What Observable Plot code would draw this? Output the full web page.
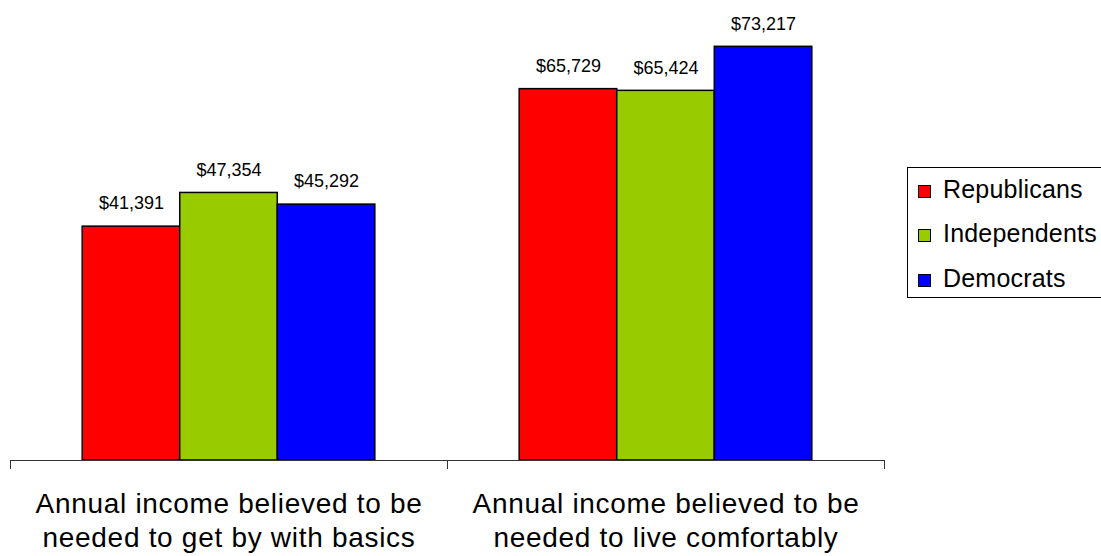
<!DOCTYPE html>
<html>
<head>
<meta charset="utf-8">
<script src="https://cdn.jsdelivr.net/npm/d3@7"></script>
<script src="https://cdn.jsdelivr.net/npm/@observablehq/plot@0.6"></script>
<style>
  html, body { margin: 0; padding: 0; background: #fff; }
  #wrap { position: relative; width: 1101px; height: 556px; overflow: hidden; font-family: "Liberation Sans", Arial, sans-serif; }
  #legend { position: absolute; left: 907px; top: 167px; width: 230px; height: 131px; border: 1px solid #000; box-sizing: border-box; background: #fff; }
  .sw { position: absolute; left: 10px; width: 13px; height: 13px; box-sizing: border-box; border: 1.5px solid #000; }
  .lb { position: absolute; left: 35px; font-size: 25px; line-height: 25px; letter-spacing: 0.2px; color: #000; white-space: nowrap; }
</style>
</head>
<body>
<div id="wrap"></div>
<script>
const groups = [
  "Annual income believed to be\nneeded to get by with basics",
  "Annual income believed to be\nneeded to live comfortably"
];
const parties = ["Republicans", "Independents", "Democrats"];
const basics = [41391, 47354, 45292];
const comfortably = [65729, 65424, 73217];
const colors = ["#ff0000", "#99cc00", "#0000ff"];

const seriesByGroup = [basics, comfortably];
const data = groups.flatMap((g, i) => parties.map((p, j) => ({group: g, party: p, value: seriesByGroup[i][j]})));
const fmt = d3.format("$,");

const chart = Plot.plot({
  width: 1101,
  height: 556,
  marginLeft: 10,
  marginRight: 217,
  marginTop: 8,
  marginBottom: 96,
  style: {fontFamily: "'Liberation Sans', Arial, sans-serif", background: "#fff", color: "#000"},
  fx: {domain: groups, padding: 0, axis: null},
  x: {domain: parties, paddingInner: 0, paddingOuter: 0.74, round: false, axis: null},
  y: {domain: [0, 80000], axis: null},
  color: {domain: parties, range: colors},
  marks: [
    Plot.barY(data, {fx: "group", x: "party", y: "value", fill: "party", stroke: "#000", strokeWidth: 1.5}),
    Plot.text(data, {fx: "group", x: "party", y: "value", text: d => fmt(d.value), dy: -23, fontSize: 18, fill: "#000"}),
    Plot.ruleY([0], {stroke: "#333", strokeWidth: 1}),
    Plot.frame({anchor: "left", insetTop: 452, insetBottom: -8, stroke: "#333"}),
    Plot.frame({anchor: "right", insetTop: 452, insetBottom: -8, stroke: "#333"}),
    Plot.text(groups, {fx: d => d, text: d => d, frameAnchor: "bottom", lineAnchor: "top", dy: 29, fontSize: 28, lineHeight: 1.2, fill: "#000"})
  ]
});

// widen the category labels slightly, as in the original
d3.select(chart).selectAll("text").filter(function() { return this.querySelector("tspan"); })
  .style("letter-spacing", "0.7px");

const wrap = document.getElementById("wrap");
wrap.appendChild(chart);

const legend = document.createElement("div");
legend.id = "legend";
const rowTops = [0, 44, 89];
parties.forEach((p, i) => {
  const sw = document.createElement("div");
  sw.className = "sw";
  sw.style.top = (17 + rowTops[i]) + "px";
  sw.style.background = colors[i];
  const lb = document.createElement("div");
  lb.className = "lb";
  lb.style.top = (9 + rowTops[i]) + "px";
  lb.textContent = p;
  legend.appendChild(sw);
  legend.appendChild(lb);
});
wrap.appendChild(legend);
</script>
</body>
</html>
